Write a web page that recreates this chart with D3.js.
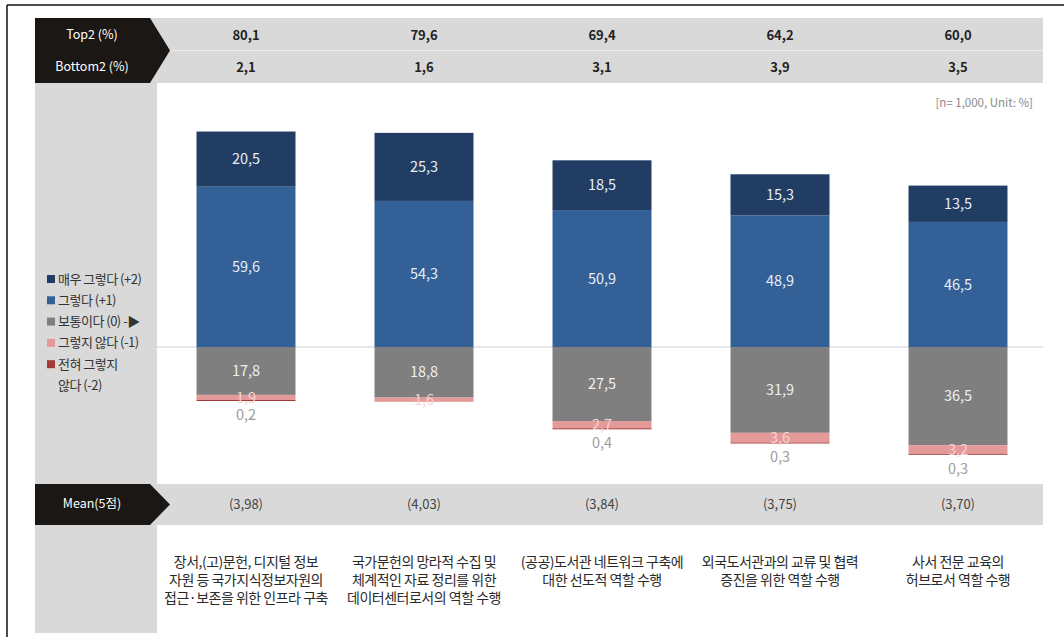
<!DOCTYPE html>
<html>
<head>
<meta charset="utf-8">
<script src="https://cdn.jsdelivr.net/npm/d3@7"></script>
<style>
body { margin: 0; background: #fff; }
svg { display: block; font-family: "Noto Sans CJK KR", "Noto Sans", sans-serif; }
</style>
</head>
<body>
<script>
// chart values
let categories = ["c1", "c2", "c3", "c4", "c5"];
let catLabels = [
	["장서,(고)문헌, 디지털 정보", "자원 등 국가지식정보자원의", "접근·보존을 위한 인프라 구축"],
	["국가문헌의 망라적 수집 및", "체계적인 자료 정리를 위한", "데이터센터로서의 역할 수행"],
	["(공공)도서관 네트워크 구축에", "대한 선도적 역할 수행"],
	["외국도서관과의 교류 및 협력", "증진을 위한 역할 수행"],
	["사서 전문 교육의", "허브로서 역할 수행"]
];
let veryAgree = [20.5, 25.3, 18.5, 15.3, 13.5];
let agree = [59.6, 54.3, 50.9, 48.9, 46.5];
let neutral = [17.8, 18.8, 27.5, 31.9, 36.5];
let disagree = [1.9, 1.6, 2.7, 3.6, 3.2];
let strongDisagree = [0.2, 0, 0.4, 0.3, 0.3];
let top2 = [80.1, 79.6, 69.4, 64.2, 60.0];
let bottom2 = [2.1, 1.6, 3.1, 3.9, 3.5];
let means = [3.98, 4.03, 3.84, 3.75, 3.70];
let legendNames = ["매우 그렇다 (+2)", "그렇다 (+1)", "보통이다 (0)", "그렇지 않다 (-1)", "전혀 그렇지", "않다 (-2)"];

let colors = {
	veryAgree: "#213d63",
	agree: "#336096",
	neutral: "#7f7f7f",
	disagree: "#e59a9a",
	strong: "#a33a3a"
};

let svg = d3.select("body").append("svg")
	.attr("width", 1064).attr("height", 643);

let x = d3.scaleBand().domain(categories).range([157, 1047])
	.paddingInner(0.444).paddingOuter(0.222);
let y = d3.scaleLinear().domain([-50, 100]).range([347 + 50 * 2.69, 347 - 100 * 2.69]);
let cx = function(i){ return x(categories[i]) + x.bandwidth() / 2; };
let f1 = function(v){ return d3.format(".1f")(v).replace(".", ","); };
let f2 = function(v){ return d3.format(".2f")(v).replace(".", ","); };

// frame
svg.append("line").attr("x1", 7).attr("x2", 7).attr("y1", 5).attr("y2", 637)
	.attr("stroke", "#111").attr("stroke-width", 1.5);
svg.append("line").attr("x1", 7).attr("x2", 1064).attr("y1", 5).attr("y2", 5)
	.attr("stroke", "#111").attr("stroke-width", 1.5);

// gray bands
svg.append("rect").attr("x", 35).attr("y", 83).attr("width", 122).attr("height", 550).attr("fill", "#d9d9d9");
svg.append("rect").attr("x", 150).attr("y", 18).attr("width", 893).attr("height", 65).attr("fill", "#d9d9d9");
svg.append("line").attr("x1", 170).attr("x2", 1043).attr("y1", 50.5).attr("y2", 50.5)
	.attr("stroke", "#ececec").attr("stroke-width", 1);
svg.append("rect").attr("x", 150).attr("y", 484).attr("width", 893).attr("height", 41).attr("fill", "#d9d9d9");

// dark header boxes
function arrowBox(y0, y1){
	let m = (y0 + y1) / 2;
	svg.append("polygon")
		.attr("points", [[35, y0], [150, y0], [170, m], [150, y1], [35, y1]].map(p => p.join(",")).join(" "))
		.attr("fill", "#1b1714");
}
arrowBox(18, 83);
arrowBox(484, 525);

svg.append("text").attr("x", 92).attr("y", 35).attr("dy", "0.35em").attr("text-anchor", "middle")
	.attr("fill", "#fff").attr("font-size", 12.5).text("Top2 (%)");
svg.append("text").attr("x", 92).attr("y", 67).attr("dy", "0.35em").attr("text-anchor", "middle")
	.attr("fill", "#fff").attr("font-size", 12.5).text("Bottom2 (%)");
svg.append("text").attr("x", 92).attr("y", 504).attr("dy", "0.35em").attr("text-anchor", "middle")
	.attr("fill", "#fff").attr("font-size", 12.5).text("Mean(5점)");

svg.selectAll("text.top2").data(top2).enter().append("text")
	.attr("x", (d, i) => cx(i)).attr("y", 35).attr("dy", "0.35em").attr("text-anchor", "middle")
	.attr("font-size", 13).attr("font-weight", "bold").attr("fill", "#222").text(d => f1(d));
svg.selectAll("text.bottom2").data(bottom2).enter().append("text")
	.attr("x", (d, i) => cx(i)).attr("y", 67).attr("dy", "0.35em").attr("text-anchor", "middle")
	.attr("font-size", 13).attr("font-weight", "bold").attr("fill", "#222").text(d => f1(d));
svg.selectAll("text.mean").data(means).enter().append("text")
	.attr("x", (d, i) => cx(i)).attr("y", 504).attr("dy", "0.35em").attr("text-anchor", "middle")
	.attr("font-size", 13).attr("fill", "#444").text(d => "(" + f2(d) + ")");

svg.append("text").attr("x", 1033).attr("y", 103).attr("dy", "0.35em").attr("text-anchor", "end")
	.attr("font-size", 11.5).attr("fill", "#8a8a8a").text("[n= 1,000, Unit: %]");

// baseline
svg.append("line").attr("x1", 157).attr("x2", 1043).attr("y1", y(0)).attr("y2", y(0))
	.attr("stroke", "#c9d1da").attr("stroke-width", 1);

// stacked bars
let bw = x.bandwidth();
let g = svg.append("g");
categories.forEach(function(c, i){
	let x0 = x(c);
	let segs = [
		{ y0: 0, y1: agree[i], col: colors.agree },
		{ y0: agree[i], y1: agree[i] + veryAgree[i], col: colors.veryAgree },
		{ y0: 0, y1: -neutral[i], col: colors.neutral },
		{ y0: -neutral[i], y1: -neutral[i] - disagree[i], col: colors.disagree },
		{ y0: -neutral[i] - disagree[i], y1: -neutral[i] - disagree[i] - strongDisagree[i], col: colors.strong }
	];
	segs.forEach(function(s){
		if (s.y0 == s.y1) return;
		g.append("rect").attr("x", x0).attr("width", bw)
			.attr("y", y(Math.max(s.y0, s.y1)))
			.attr("height", Math.max(Math.abs(y(s.y0) - y(s.y1)), 1))
			.attr("fill", s.col);
	});
	let lab = function(v, val, col){
		g.append("text").attr("x", cx(i)).attr("y", y(v)).attr("dy", "0.35em")
			.attr("text-anchor", "middle").attr("font-size", 14.5).attr("fill", col).text(f1(val));
	};
	lab(agree[i] / 2, agree[i], "#e8eef6");
	lab(agree[i] + veryAgree[i] / 2, veryAgree[i], "#e8eef6");
	lab(-neutral[i] / 2, neutral[i], "#f0f0f0");
	lab(-neutral[i] - disagree[i] / 2, disagree[i], "#f7d2d2");
	if (strongDisagree[i] > 0) {
		g.append("text").attr("x", cx(i))
			.attr("y", y(-neutral[i] - disagree[i] - strongDisagree[i]) + 14).attr("dy", "0.35em")
			.attr("text-anchor", "middle").attr("font-size", 14.5).attr("fill", "#9c9c9c")
			.text(f1(strongDisagree[i]));
	}
});

// category labels
catLabels.forEach(function(lines, i){
	let t = svg.append("text").attr("x", cx(i)).attr("y", 562).attr("text-anchor", "middle")
		.attr("font-size", 14).attr("letter-spacing", -0.5).attr("fill", "#2a2a2a");
	lines.forEach(function(l, k){
		t.append("tspan").attr("x", cx(i)).attr("y", 562 + k * 18).attr("dy", "0.35em").text(l);
	});
});

// legend
let legendCols = [colors.veryAgree, colors.agree, colors.neutral, colors.disagree, colors.strong, null];
legendNames.forEach(function(n, k){
	let yy = 279 + k * 21.3;
	if (legendCols[k]) {
		svg.append("rect").attr("x", 47).attr("y", yy - 4).attr("width", 8).attr("height", 8).attr("fill", legendCols[k]);
	}
	svg.append("text").attr("x", 58).attr("y", yy).attr("dy", "0.35em").attr("font-size", 13)
		.attr("letter-spacing", -0.5).attr("fill", "#333").text(n + (k == 2 ? "  -▶" : ""));
});
</script>
</body>
</html>
